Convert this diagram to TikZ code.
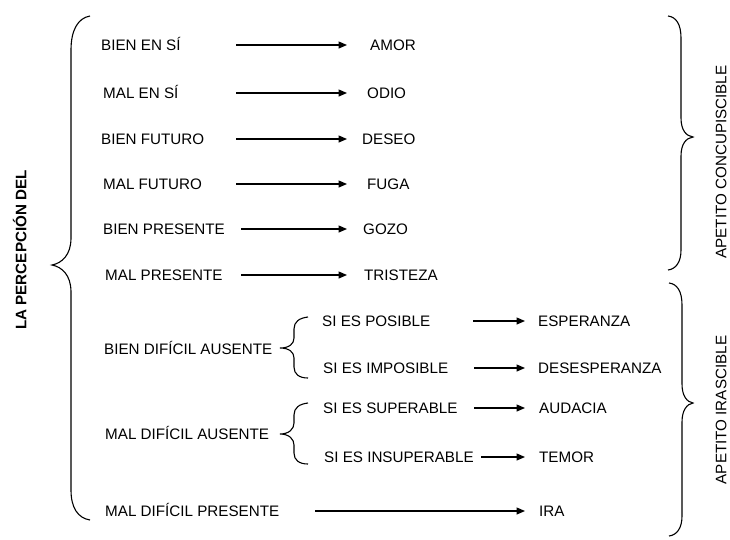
\documentclass[tikz,border=0pt]{standalone}
\usepackage{fontspec}
\setmainfont{Liberation Sans}
\usetikzlibrary{arrows.meta}
\begin{document}
\begin{tikzpicture}[x=1pt,y=-1pt,
  lbl/.style={inner sep=0pt,anchor=west,text height=10.9pt,text depth=0pt,font=\fontsize{15.2}{18}\selectfont},
  vlbl/.style={inner sep=0pt,rotate=90,text height=10.9pt,text depth=0pt,font=\fontsize{15.2}{18}\selectfont},
  arr/.style={line width=1.3pt,-{Triangle[length=8.5pt,width=7pt]}},
  brc/.style={line width=1.1pt}]
\useasboundingbox (0,0) rectangle (730,539);
% left texts
\node[lbl] (l1) at (101,45) {BIEN EN SÍ};
\node[lbl] (l2) at (103,93) {MAL EN SÍ};
\node[lbl] (l3) at (101,139) {BIEN FUTURO};
\node[lbl] (l4) at (103,184) {MAL FUTURO};
\node[lbl] (l5) at (103,229) {BIEN PRESENTE};
\node[lbl] (l6) at (105,275) {MAL PRESENTE};
\node[lbl] (l7) at (104,349) {BIEN DIFÍCIL AUSENTE};
\node[lbl] (l8) at (105,434) {MAL DIFÍCIL AUSENTE};
\node[lbl] (l9) at (105,511) {MAL DIFÍCIL PRESENTE};
% sub texts
\node[lbl] (s1) at (322,321) {SI ES POSIBLE};
\node[lbl] (s2) at (323,368) {SI ES IMPOSIBLE};
\node[lbl] (s3) at (323,408) {SI ES SUPERABLE};
\node[lbl] (s4) at (324,457) {SI ES INSUPERABLE};
% targets
\node[lbl] (t1) at (370,45) {AMOR};
\node[lbl] (t2) at (367,93) {ODIO};
\node[lbl] (t3) at (362,139) {DESEO};
\node[lbl] (t4) at (367,184) {FUGA};
\node[lbl] (t5) at (363,229) {GOZO};
\node[lbl] (t6) at (364,275) {TRISTEZA};
\node[lbl] (t7) at (538,321) {ESPERANZA};
\node[lbl] (t8) at (538,368) {DESESPERANZA};
\node[lbl] (t9) at (539,408) {AUDACIA};
\node[lbl] (t10) at (539,457) {TEMOR};
\node[lbl] (t11) at (539,511) {IRA};
% arrow start points
\coordinate (a1) at (236,45);
\coordinate (a2) at (236,93);
\coordinate (a3) at (236,139);
\coordinate (a4) at (236,184);
\coordinate (a5) at (241,229);
\coordinate (a6) at (241,275);
\coordinate (a7) at (473,321);
\coordinate (a8) at (474,368);
\coordinate (a9) at (474,408);
\coordinate (a10) at (481,457);
\coordinate (a11) at (315,511);
\draw[arr,shorten >=23pt] (a1) -- (t1.west);
\draw[arr,shorten >=20pt] (a2) -- (t2.west);
\draw[arr,shorten >=15pt] (a3) -- (t3.west);
\draw[arr,shorten >=20pt] (a4) -- (t4.west);
\draw[arr,shorten >=16pt] (a5) -- (t5.west);
\draw[arr,shorten >=17pt] (a6) -- (t6.west);
\draw[arr,shorten >=13pt] (a7) -- (t7.west);
\draw[arr,shorten >=13pt] (a8) -- (t8.west);
\draw[arr,shorten >=14pt] (a9) -- (t9.west);
\draw[arr,shorten >=14pt] (a10) -- (t10.west);
\draw[arr,shorten >=14pt] (a11) -- (t11.west);
% rotated labels
\node[vlbl,font=\fontsize{15.2}{18}\selectfont\bfseries] (lp) at (21,250) {LA PERCEPCIÓN DEL};
\node[vlbl] (ac) at (721,162) {APETITO CONCUPISCIBLE};
\node[vlbl] (ai) at (721,410) {APETITO IRASCIBLE};
% left big brace
\draw[brc] (90,16) .. controls (78,18) and (71,30) .. (71,50) -- (71,238)
  .. controls (71,255) and (62,263) .. (52,265)
  .. controls (62,267) and (71,275) .. (71,292) -- (71,490)
  .. controls (71,508) and (78,518) .. (90,520);
% right braces
\draw[brc] (668,16) .. controls (676,17) and (681,24) .. (681,38) -- (681,118)
  .. controls (681,130) and (686,136) .. (693,137)
  .. controls (686,138) and (681,144) .. (681,156) -- (681,250)
  .. controls (681,262) and (676,269) .. (668,270);
\draw[brc] (669,283) .. controls (677,284) and (682,291) .. (682,305) -- (682,384)
  .. controls (682,396) and (687,402) .. (693,403)
  .. controls (687,404) and (682,410) .. (682,422) -- (682,516)
  .. controls (682,528) and (677,535) .. (669,536);
% sub braces
\draw[brc] (308,317) .. controls (299,318) and (294,322) .. (294,329) -- (294,338)
  .. controls (294,344) and (289,348) .. (280,348)
  .. controls (289,348) and (294,352) .. (294,358) -- (294,367)
  .. controls (294,374) and (299,378) .. (308,378);
\draw[brc] (308,403) .. controls (299,404) and (294,408) .. (294,415) -- (294,423)
  .. controls (294,429) and (289,434) .. (280,434)
  .. controls (289,434) and (294,439) .. (294,445) -- (294,453)
  .. controls (294,460) and (299,464) .. (308,464);
\end{tikzpicture}
\end{document}
